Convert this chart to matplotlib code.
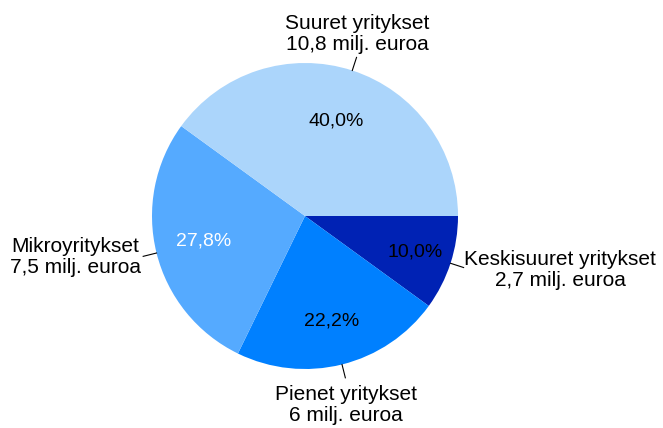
import numpy as np
import matplotlib.pyplot as plt

plt.rcParams['font.family'] = ['Liberation Sans', 'DejaVu Sans']

# data (milj. euroa), clockwise from 3 o'clock
names = ['Keskisuuret yritykset', 'Pienet yritykset', 'Mikroyritykset', 'Suuret yritykset']
amounts = [2.7, 6, 7.5, 10.8]
amount_txt = ['2,7', '6', '7,5', '10,8']
colors = ['#0022b4', '#0080ff', '#55aaff', '#abd5fb']
pct_colors = ['black', 'black', 'white', 'black']

# layout (pixels, y down)
W, H = 663, 428
cx, cy, R = 305, 216, 153
pct_dist = [0.76, 0.71, 0.68, 0.65]
label_pos = [(560, 270), (346, 405), (75, 257), (357, 34)]

fig = plt.figure(figsize=(W / 100, H / 100), dpi=100)
ax = fig.add_axes([0, 0, 1, 1])

wedges, _ = ax.pie(amounts, colors=colors, startangle=0, counterclock=False,
                   center=(cx, H - cy), radius=R, frame=True,
                   wedgeprops=dict(linewidth=0))
ax.set_xlim(0, W)
ax.set_ylim(0, H)
ax.set_aspect('equal')
ax.axis('off')

total = sum(amounts)
for i, w in enumerate(wedges):
    mid = np.deg2rad((w.theta1 + w.theta2) / 2)
    pct = 100 * amounts[i] / total
    txt = f"{pct:.1f}%".replace('.', ',')
    px = cx + pct_dist[i] * R * np.cos(mid)
    py = H - cy + pct_dist[i] * R * np.sin(mid)
    ax.text(px, py, txt, ha='center', va='center', fontsize=14, color=pct_colors[i])
    # leader line
    r0, r1 = 1.0 * R, 1.09 * R
    ax.plot([cx + r0 * np.cos(mid), cx + r1 * np.cos(mid)],
            [H - cy + r0 * np.sin(mid), H - cy + r1 * np.sin(mid)],
            color='black', lw=0.8)
    lx, ly = label_pos[i]
    ax.text(lx, H - ly, f"{names[i]}\n{amount_txt[i]} milj. euroa",
            ha='center', va='center', fontsize=15, linespacing=1.1)

fig.savefig('out.png', dpi=100)
